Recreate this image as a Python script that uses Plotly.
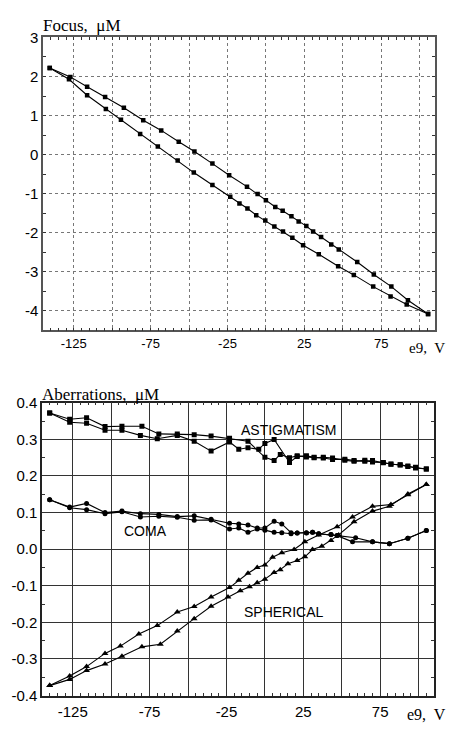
import plotly.graph_objects as go

# ---------------- data ----------------
# Focus (upper plot), two branches of the hysteresis loop
focus_up_x = [-140.6, -127.2, -116.3, -104.6, -92.4, -79.8, -68.1, -56.7, -46.5, -34.8,
              -23.9, -12.3, -5.4, 0.0, 6.1, 10.9, 16.6, 21.3, 26.3, 30.7, 35.9, 42.5,
              47.4, 59.4, 70.2, 81.6, 92.4, 105.5]
focus_up_y = [2.22, 1.99, 1.74, 1.475, 1.20, 0.88, 0.62, 0.33, 0.08, -0.23,
              -0.53, -0.82, -1.01, -1.17, -1.34, -1.44, -1.58, -1.71, -1.83, -1.97, -2.11, -2.30,
              -2.43, -2.75, -3.07, -3.38, -3.73, -4.08]
focus_dn_x = [-140.6, -128.1, -116.3, -104.1, -94.3, -81.8, -70.3, -57.4, -46.9, -34.8,
              -23.2, -17.2, -12.0, -6.3, -0.4, 5.5, 11.1, 17.2, 24.2, 34.4, 47.0,
              57.2, 69.8, 81.1, 91.6, 105.5]
focus_dn_y = [2.22, 1.93, 1.52, 1.17, 0.89, 0.53, 0.21, -0.15, -0.46, -0.78,
              -1.08, -1.25, -1.38, -1.55, -1.69, -1.84, -1.97, -2.13, -2.32, -2.55, -2.86,
              -3.08, -3.38, -3.63, -3.84, -4.08]

# Aberrations (lower plot)
astig1_x = [-140, -127, -116, -104, -93, -81, -70, -57, -46, -35, -23, -17, -11, -4, 0, 6,
            16, 21, 27, 32, 38, 44, 52, 58, 65, 70, 77, 82, 88, 93, 98, 105]
astig1_y = [0.372, 0.347, 0.344, 0.325, 0.325, 0.311, 0.302, 0.311, 0.295, 0.268, 0.293,
            0.273, 0.277, 0.273, 0.289, 0.300,
            0.237, 0.253, 0.255, 0.251, 0.249, 0.245, 0.246, 0.242, 0.240, 0.242, 0.236,
            0.233, 0.230, 0.227, 0.224, 0.219]
astig2_x = [-140, -127, -116, -104, -93, -80, -69, -57, -46, -35, -23, -11, 0, 6, 10, 16,
            21, 27, 32, 38, 44, 52, 58, 65, 70, 77, 82, 88, 93, 98, 105]
astig2_y = [0.372, 0.355, 0.359, 0.335, 0.336, 0.336, 0.315, 0.315, 0.313, 0.309, 0.303,
            0.295, 0.251, 0.242, 0.259, 0.250, 0.255, 0.252, 0.250, 0.251, 0.249, 0.243,
            0.240, 0.243, 0.238, 0.237, 0.232, 0.231, 0.226, 0.222, 0.219]

coma1_x = [-140, -127, -116, -104, -93, -81, -69, -57, -46, -35, -23, -17, -11, -5, 0, 6,
           11, 17, 21, 27, 31, 35, 43, 47, 57, 70, 81, 93, 105]
coma1_y = [0.135, 0.115, 0.125, 0.100, 0.104, 0.097, 0.095, 0.089, 0.091, 0.082, 0.071,
           0.069, 0.066, 0.058, 0.058, 0.076, 0.069, 0.045, 0.044, 0.045, 0.046, 0.042,
           0.040, 0.037, 0.020, 0.020, 0.015, 0.030, 0.051]
coma2_x = [-140, -127, -116, -104, -93, -81, -69, -57, -46, -35, -23, -17, -11, -5, 0, 6,
           11, 17, 21, 27, 31, 35, 43, 47, 59, 70, 81, 93, 105]
coma2_y = [0.135, 0.113, 0.108, 0.097, 0.102, 0.088, 0.090, 0.087, 0.079, 0.080, 0.055,
           0.058, 0.046, 0.055, 0.052, 0.046, 0.045, 0.042, 0.044, 0.044, 0.046, 0.042,
           0.040, 0.037, 0.031, 0.020, 0.015, 0.030, 0.051]

sph1_x = [-140, -127, -116, -104, -94, -82, -70, -57, -46, -35, -23, -17, -11, -5, 0, 5,
          11, 19, 26, 35, 47, 57, 70, 82, 93, 105]
sph1_y = [-0.373, -0.347, -0.321, -0.285, -0.265, -0.232, -0.209, -0.172, -0.157, -0.131,
          -0.105, -0.085, -0.066, -0.050, -0.043, -0.022, -0.010, -0.001, 0.020, 0.039,
          0.061, 0.088, 0.117, 0.122, 0.149, 0.177]
sph2_x = [-140, -127, -116, -104, -93, -80, -68, -57, -46, -35, -24, -16, -10, -5, 0, 6,
          10, 15, 21, 26, 31, 37, 43, 48, 58, 70, 81, 93, 105]
sph2_y = [-0.373, -0.356, -0.332, -0.314, -0.293, -0.267, -0.260, -0.224, -0.190, -0.156,
          -0.131, -0.114, -0.103, -0.092, -0.082, -0.064, -0.056, -0.040, -0.031, -0.021,
          -0.001, 0.008, 0.024, 0.039, 0.075, 0.104, 0.117, 0.151, 0.177]

x_tickvals = [-125, -100, -75, -50, -25, 0, 25, 50, 75, 100]
x_ticktext = ["-125", "", "-75", "", "-25", "", "25", "", "75", ""]
focus_yticks = [-4, -3, -2, -1, 0, 1, 2, 3]
focus_yticktext = ["-4", "-3", "-2", "-1", "0", "1", "2", "3"]
aberr_yticks = [-0.4, -0.3, -0.2, -0.1, 0.0, 0.1, 0.2, 0.3, 0.4]
aberr_yticktext = ["-0.4", "-0.3", "-0.2", "-0.1", "0.0", "0.1", "0.2", "0.3", "0.4"]

# ---------------- figure ----------------
W, H = 450, 732
fig = go.Figure()

def line_trace(x, y, symbol, xa, ya, size=5):
    return go.Scatter(x=x, y=y, mode="lines+markers", xaxis=xa, yaxis=ya,
                      line=dict(color="black", width=1.1),
                      marker=dict(symbol=symbol, size=size, color="black"),
                      showlegend=False, hoverinfo="skip")

fig.add_trace(line_trace(focus_up_x, focus_up_y, "square", "x", "y", 4.5))
fig.add_trace(line_trace(focus_dn_x, focus_dn_y, "square", "x", "y", 4.5))
fig.add_trace(line_trace(astig1_x, astig1_y, "square", "x2", "y2", 5))
fig.add_trace(line_trace(astig2_x, astig2_y, "square", "x2", "y2", 5))
fig.add_trace(line_trace(coma1_x, coma1_y, "circle", "x2", "y2", 5))
fig.add_trace(line_trace(coma2_x, coma2_y, "circle", "x2", "y2", 5))
fig.add_trace(line_trace(sph1_x, sph1_y, "triangle-up", "x2", "y2", 6))
fig.add_trace(line_trace(sph2_x, sph2_y, "triangle-up", "x2", "y2", 6))

sans = "Liberation Sans, Arial, sans-serif"
serif = "Liberation Serif, Times New Roman, serif"

common_x = dict(range=[-145, 110], tickmode="array", tickvals=x_tickvals, ticktext=x_ticktext,
                showline=True, mirror="ticks", ticks="inside", ticklen=0,
                zeroline=False, showgrid=True,
                minor=dict(dtick=5, tick0=0, ticks="inside", ticklen=3, tickcolor="#333",
                           showgrid=False))

fig.update_layout(
    width=W, height=H,
    margin=dict(l=0, r=0, t=0, b=0),
    paper_bgcolor="white", plot_bgcolor="white",
    xaxis=dict(**common_x, domain=[43 / W, 435 / W], anchor="y",
               linecolor="#555", linewidth=1.5, gridcolor="#777", griddash="dot", gridwidth=1,
               tickfont=dict(family=sans, size=13, color="black")),
    yaxis=dict(range=[-4.5, 3.003], tickmode="array", tickvals=focus_yticks,
               ticktext=focus_yticktext, domain=[1 - 329 / H, 1 - 29 / H],
               anchor="x", showline=True, mirror="ticks", linecolor="#555", linewidth=1.5,
               ticks="inside", ticklen=0, zeroline=False, showgrid=True,
               gridcolor="#777", griddash="dot", gridwidth=1,
               minor=dict(dtick=0.5, tick0=0, ticks="inside", ticklen=3, tickcolor="#333",
                          showgrid=False),
               tickfont=dict(family=sans, size=15, color="black")),
    xaxis2=dict(**common_x, domain=[42 / W, 434 / W], anchor="y2",
                linecolor="#222", linewidth=1.5, gridcolor="#333", gridwidth=1.2,
                ticklabelstandoff=2,
                tickfont=dict(family=sans, size=15, color="black")),
    yaxis2=dict(range=[-0.4005, 0.4005], tickmode="array", tickvals=aberr_yticks,
                ticktext=aberr_yticktext,
                domain=[1 - 703 / H, 1 - 403 / H], anchor="x2",
                showline=True, mirror="ticks", linecolor="#222", linewidth=1.5,
                ticks="inside", ticklen=0, zeroline=False, showgrid=True,
                gridcolor="#333", gridwidth=1.2,
                minor=dict(dtick=0.05, tick0=0, ticks="inside", ticklen=3, tickcolor="#333",
                           showgrid=False),
                tickfont=dict(family=sans, size=15, color="black")),
)

annots = [
    dict(text="Focus,  \u03bcM", xref="paper", yref="paper", x=41 / W, y=1 - 17 / H,
         xanchor="left", yanchor="middle", font=dict(family=serif, size=17, color="black")),
    dict(text="Aberrations,  \u03bcM", xref="paper", yref="paper", x=40 / W, y=1 - 395 / H,
         xanchor="left", yanchor="middle", font=dict(family=serif, size=17, color="black")),
    dict(text="e9,  V", xref="paper", yref="paper", x=447 / W, y=1 - 347 / H,
         xanchor="right", yanchor="middle", font=dict(family=serif, size=15, color="black")),
    dict(text="e9,  V", xref="paper", yref="paper", x=448 / W, y=1 - 722 / H,
         xanchor="right", yanchor="middle", font=dict(family=serif, size=16, color="black")),
    dict(text="ASTIGMATISM", xref="x2", yref="y2", x=15.6, y=0.325,
         xanchor="center", yanchor="middle", font=dict(family=sans, size=14, color="black")),
    dict(text="COMA", xref="x2", yref="y2", x=-77.5, y=0.051,
         xanchor="center", yanchor="middle", font=dict(family=sans, size=14, color="black")),
    dict(text="SPHERICAL", xref="x2", yref="y2", x=12.4, y=-0.173,
         xanchor="center", yanchor="middle", font=dict(family=sans, size=14, color="black")),
]
for a in annots:
    a["showarrow"] = False
    fig.add_annotation(**a)

fig.write_html(
    "out.html",
    config={"displayModeBar": False},
    post_script="document.body.style.margin='0';document.body.style.overflow='hidden';",
)
